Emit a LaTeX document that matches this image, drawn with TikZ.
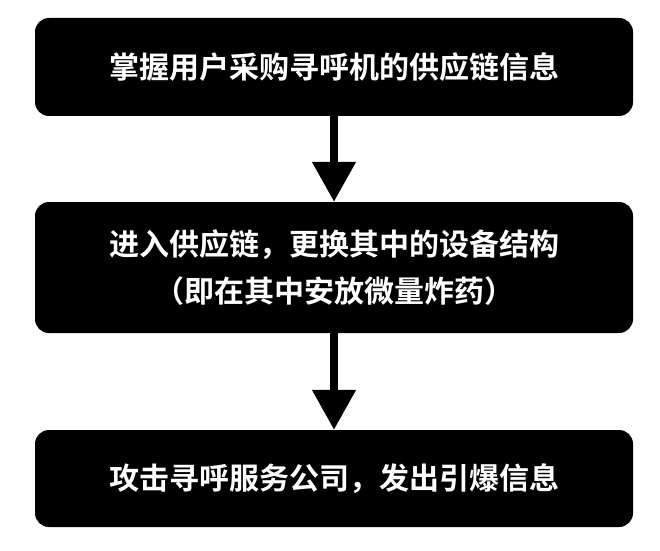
\documentclass[tikz,border=0pt]{standalone}
\usepackage{fontspec}
\newfontfamily\cjk{Noto Sans CJK SC}[BoldFont={Noto Sans CJK SC Bold}]
\usetikzlibrary{arrows.meta}
\begin{document}
\begin{tikzpicture}[x=1pt,y=1pt,
  box/.style={fill=black,rounded corners=14pt,minimum width=598pt,text=white,font=\cjk\bfseries\fontsize{30pt}{47pt}\selectfont,align=center,inner sep=0pt},
  arr/.style={line width=8pt,-{Triangle[length=40pt,width=42pt]}}]
\useasboundingbox (0,0) rectangle (660,550);
\fill[white] (0,0) rectangle (660,550);
\node[box,minimum height=98pt] (a) at (334,483) {掌握用户采购寻呼机的供应链信息};
\node[box,minimum height=131pt] (b) at (334,282.5) {进入供应链，更换其中的设备结构\\（即在其中安放微量炸药）};
\node[box,minimum height=97pt] (c) at (334,71.5) {攻击寻呼服务公司，发出引爆信息};
\draw[arr] (a.south) -- (b.north);
\draw[arr] (b.south) -- (c.north);
\end{tikzpicture}
\end{document}
